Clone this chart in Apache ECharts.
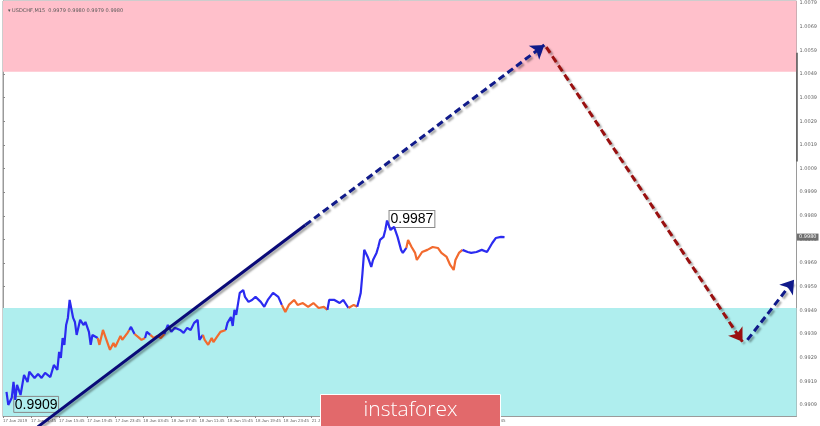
<!DOCTYPE html>
<html>
<head>
<meta charset="utf-8">
<script src="https://cdn.jsdelivr.net/npm/echarts@6/dist/echarts.min.js"></script>
<style>
html,body{margin:0;padding:0;background:#fff;}
#chart{width:820px;height:426px;}
</style>
</head>
<body>
<div id="chart"></div>
<script>
// ---- data ----
const chartTitle = '\u25BE USDCHF,M15  0.9979 0.9980 0.9979 0.9980';
// M15 bar index of each sampled bar
const barIdx = [2,3,5,6,7,8,10,12,14,15,18,20,22,24,27,29,31,32,33,34,35,36,37,38,40,41,42,44,46,47,49,50,51,54,
  55,57,59,61,63,64,67,68,71,72,
  73,75,
  77,79,81,
  82,84,
  86,88,90,92,
  94,96,98,101,103,105,107,109,111,112,114,
  115,117,119,120,122,124,127,
  128,130,131,132,133,135,137,138,140,142,144,147,149,151,154,157,159,
  161,163,166,168,171,174,177,180,183,185,
  186,189,192,194,197,
  198,200,202,
  203,204,205,206,208,210,211,213,214,215,217,218,219,221,223,225,227,228,230,
  231,233,235,236,239,242,245,248,250,253,255,257,258,260,262,
  265,267,270,273,276,279,281,284,286];
// close price of each sampled bar
const closes = [0.99145,0.9909,0.9912,0.99187,0.99111,0.99175,0.99132,0.99217,0.99187,0.9923,0.99204,0.99221,0.99204,0.99225,0.99208,0.99259,0.99238,0.99314,0.99289,0.99373,0.99344,0.99428,0.99458,0.99534,0.99458,0.99441,0.99386,0.9945,0.99428,0.99441,0.99399,0.99344,0.99386,0.99373,
  0.99344,0.99407,0.99365,0.99323,0.99352,0.99335,0.99382,0.99365,0.99395,0.99407,
  0.9942,0.9939,
  0.99378,0.99365,0.99373,
  0.99399,0.99386,
  0.99373,0.99382,0.99373,0.9939,
  0.99428,0.99399,0.99416,0.99407,0.99395,0.99416,0.99407,0.99437,0.9945,0.99365,0.99386,
  0.99365,0.99344,0.99373,0.99356,0.99378,0.99399,0.99407,
  0.99437,0.99462,0.99424,0.99492,0.99471,0.99564,0.99576,0.99547,0.99526,0.99534,0.99547,0.99526,0.99505,0.99534,0.99564,0.99547,0.99513,
  0.99483,0.99513,0.99534,0.99513,0.99521,0.99505,0.99521,0.995,0.99505,0.99492,
  0.99534,0.99534,0.99521,0.99534,0.995,
  0.99492,0.99513,0.99505,
  0.99534,0.99564,0.99648,0.99746,0.99716,0.99674,0.99703,0.99733,0.99758,0.99788,0.99801,0.9983,0.9987,0.9983,0.99843,0.99801,0.99746,0.99733,0.99754,
  0.99788,0.99758,0.99733,0.99703,0.99737,0.99746,0.99758,0.99754,0.99733,0.99716,0.99682,0.99661,0.99703,0.99733,0.99746,
  0.99737,0.99733,0.99737,0.99746,0.99737,0.99775,0.99796,0.99801,0.998];
// bar index where each wave segment ends (colours alternate, starting blue)
const waveEnds = [54,72,75,81,84,92,114,127,159,185,197,202,230,262,286];
const waveColors = ['#2b2bf0','#f26a2e'];
// x-axis labels, one every 16 bars (4 hours)
const timeLabels = ['17 Jan 2019','17 Jan 11:45','17 Jan 15:45','17 Jan 19:45','17 Jan 23:45','18 Jan 03:45','18 Jan 07:45','18 Jan 11:45','18 Jan 15:45','18 Jan 19:45','18 Jan 23:45','21 Jan 03:45','21 Jan 07:45','21 Jan 11:45','21 Jan 15:45','21 Jan 19:45','21 Jan 23:45','22 Jan 03:45'];
const barsPerLabel = 16;
// price scale labels
const priceTicks = [0.9909,0.9919,0.9929,0.9939,0.9949,0.9959,0.9969,0.9979,0.9989,0.9999,1.0009,1.0019,1.0029,1.0039,1.0049,1.0059,1.0069,1.0079];
const lastPrice = 0.9980;
const lowPoint = [3, 0.9909];
const highPoint = [219, 0.9987];
// zones
const sellZone = [1.0050, 1.00799];
const buyZone = [0.99043, 0.9950];
// forecast wave paths: [barIndex, price]
const upSolid = [[19.8, 0.98997],[172.4, 0.99851]];
const upDashed = [[172.4, 0.99851],[308.7, 1.00613]];
const downDashed = [[309.8, 1.00604],[421.7, 0.99357]];
const upDashed2 = [[424.5, 0.99365],[451.1, 0.99619]];
// price-scale scroll marker range
const scaleMarker = [1.0058, 1.0012];
const xMax = 452.5;

// ---- chart ----
const chart = echarts.init(document.getElementById('chart'), null, {renderer:'canvas'});

const points = barIdx.map((x,i)=>[x, closes[i]]);
const labelPos = timeLabels.map((_, i) => i * barsPerLabel);
const series = [];
let start = 0;
waveEnds.forEach((end, k) => {
  const seg = points.filter(p => p[0] >= start && p[0] <= end);
  series.push({
    type:'line', data: seg, showSymbol:false, symbol:'none',
    lineStyle:{color: waveColors[k%2], width:2.2}, z:5, silent:true
  });
  start = end;
});
// zones on first series
series[0].markArea = {
  silent:true,
  data:[
    [{yAxis: sellZone[0], itemStyle:{color:'#ffc0cb'}},{yAxis: sellZone[1]}],
    [{yAxis: buyZone[0], itemStyle:{color:'#afeeee'}},{yAxis: buyZone[1]}]
  ]
};
const boxLabel = {show:true, formatter:'{c}', color:'#000', fontSize:14,
    fontFamily:'Liberation Sans', borderColor:'#888', borderWidth:1, padding:[1,1,0,1], lineHeight:15};
series[0].markPoint = {
  symbol:'circle', symbolSize:1, itemStyle:{color:'rgba(0,0,0,0)'},
  data:[{coord: lowPoint, value: lowPoint[1].toFixed(4)}],
  label:Object.assign({position:[6,-8]}, boxLabel)
};
// high label on blue wave 7
series[12].markPoint = {
  symbol:'circle', symbolSize:1, itemStyle:{color:'rgba(0,0,0,0)'},
  data:[{coord: highPoint, value: highPoint[1].toFixed(4)}],
  label:Object.assign({position:[3,-9], backgroundColor:'#fff'}, boxLabel)
};
// current price tag on the price scale
const last = series[series.length-1];
last.markPoint = {
  symbol:'circle', symbolSize:1, itemStyle:{color:'rgba(0,0,0,0)'},
  data:[{coord:[xMax, lastPrice], value: lastPrice.toFixed(4)}],
  label:{show:true, position:'right', distance:0, formatter:'{c}', color:'#fff',
    backgroundColor:'#6e6e6e', fontSize:5, padding:[1,2,1,2], fontFamily:'DejaVu Sans'}
};

function arrow(coords, color, dashed, head){
  return {
    type:'lines', coordinateSystem:'cartesian2d', polyline:false, clip:false, z:8, silent:true,
    symbol: head ? ['none','arrow'] : ['none','none'], symbolSize: 13,
    lineStyle:{color: color, width:3, type: dashed ? [7,4] : 'solid', opacity:1, curveness:0,
      shadowColor:'rgba(0,0,0,0.35)', shadowBlur:2, shadowOffsetX:2, shadowOffsetY:2},
    data:[{coords: coords}]
  };
}
series.push(arrow(upSolid, '#0a0a78', false, false));
series.push(arrow(upDashed, '#101a8a', true, true));
series.push(arrow(downDashed, '#9a1010', true, true));
series.push(arrow(upDashed2, '#101a8a', true, true));
series.push({
  type:'lines', coordinateSystem:'cartesian2d', clip:false, z:9, silent:true,
  lineStyle:{color:'#555', width:1.5, opacity:1},
  data:[{coords:[[xMax, scaleMarker[0]],[xMax, scaleMarker[1]]]}]
});

const option = {
  animation:false,
  backgroundColor:'#ffffff',
  title:{text: chartTitle, left:3, top:3, textStyle:{fontSize:5, fontWeight:'normal', color:'#555', fontFamily:'DejaVu Sans'}},
  grid:{left:1, right:17, top:1, bottom:10, show:true, borderColor:'#9a9a9a', borderWidth:1, backgroundColor:'rgba(0,0,0,0)'},
  xAxis:{
    type:'value', min:0, max:xMax,
    axisLine:{show:true, lineStyle:{color:'#9a9a9a'}},
    axisTick:{show:true, length:2, customValues: labelPos, lineStyle:{color:'#888'}},
    splitLine:{show:false},
    axisLabel:{fontSize:4.4, color:'#666', margin:3, align:'left', fontFamily:'Liberation Sans',
      customValues: labelPos,
      formatter: v => timeLabels[Math.round(v/barsPerLabel)] || ''}
  },
  yAxis:{
    type:'value', position:'right', min:0.99043, max:1.00799, scale:true,
    axisLine:{show:true, lineStyle:{color:'#9a9a9a'}},
    axisTick:{show:true, length:2, customValues: priceTicks, lineStyle:{color:'#888'}},
    splitLine:{show:false},
    axisLabel:{fontSize:5, color:'#666', margin:3, fontFamily:'DejaVu Sans', customValues: priceTicks,
      formatter: v => v.toFixed(4)}
  },
  graphic:[{
    type:'group', left:320, top:394, silent:true, zlevel:2, z:100,
    children:[
      {type:'rect', zlevel:2, z:100, shape:{x:0,y:0,width:180,height:40}, style:{fill:'#e2696b', stroke:'#ffffff', lineWidth:1}},
      {type:'text', zlevel:2, z:101, x:90, y:16, style:{text:'instaforex', fill:'#ffffff', fontSize:21, fontFamily:'Open Sans', fontWeight:300, align:'center', verticalAlign:'middle'}}
    ]
  }],
  series: series
};
chart.setOption(option);
</script>
</body>
</html>
